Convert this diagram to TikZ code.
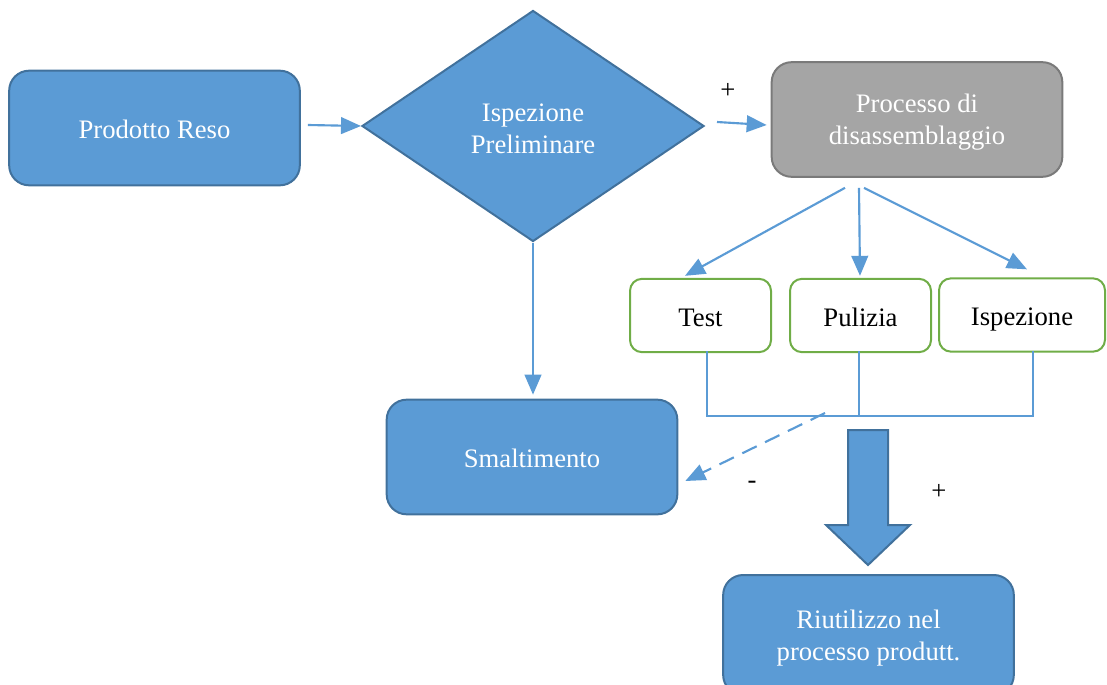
\documentclass[tikz,border=0pt]{standalone}
\usepackage{fontspec}
\setmainfont{Liberation Serif}
\usetikzlibrary{arrows.meta,shapes.geometric,calc}
\definecolor{bfill}{HTML}{5B9BD5}
\definecolor{bline}{HTML}{41719C}
\definecolor{gfill}{HTML}{A5A5A5}
\definecolor{gline}{HTML}{7A7A7A}
\definecolor{grn}{HTML}{70AD47}
\begin{document}
\begin{tikzpicture}[x=0.75pt,y=-0.75pt,
  every node/.style={font=\fontsize{20}{24}\selectfont, align=center, inner sep=0pt},
  oneline/.style={text height=17pt, text depth=1pt},
  twolines/.style={label={[text=white, align=center, yshift=-2pt]center:#1}},
  bluebox/.style={draw=bline, fill=bfill, line width=1.5pt, rounded corners=15pt,
    text=white, minimum width=218pt, minimum height=86pt},
  greybox/.style={bluebox, draw=gline, fill=gfill},
  stagebox/.style={draw=grn, fill=white, line width=1.5pt, rounded corners=9pt,
    text=black, minimum height=55pt, oneline},
  conn/.style={draw=bfill, line width=1.6pt, -{Triangle[length=15pt,width=12.5pt]}},
  joinline/.style={draw=bfill, line width=0.8pt},
  sign/.style={text=black}
]
\clip (0,0) rectangle (1107,685);
\useasboundingbox (0,0) rectangle (1107,685);

% main process nodes
\node[bluebox, oneline] (reso) at (154.5,128) {Prodotto Reso};
\node[diamond, draw=bline, fill=bfill, line width=1.5pt, aspect=1.48,
  minimum width={342*0.75pt}, minimum height={231*0.75pt},
  twolines={Ispezione\\Preliminare}] (diam) at (533,126) {};
\node[greybox, twolines={Processo di\\disassemblaggio}] (proc) at (917,119.5) {};
\node[bluebox, oneline] (smal) at (532,457) {Smaltimento};
\node[bluebox, minimum height=90pt, twolines={Riutilizzo nel\\processo produtt.}] (riut) at (868.5,635) {};

% disassembly stages
\node[stagebox, minimum width={141*0.75pt}] (test) at (700.5,315.5) {Test};
\node[stagebox, minimum width={141*0.75pt}] (pul) at (860.5,315.5) {Pulizia};
\node[stagebox, minimum width={166*0.75pt}] (isp) at (1022,315) {Ispezione};

% signs
\node[sign] (p1) at (728,91) {+};
\node[sign] (m1) at (752,485) {-};
\node[sign] (p2) at (939,492) {+};

% connectors
\draw[conn] ($(reso.east)+(7,-3)$) -- (diam.west);
\draw[conn] ($(diam.east)+(12,-4)$) -- ($(proc.west)+(-4,5.5)$);
\draw[conn] (diam.south) -- ($(smal.north)+(1,-4)$);
\draw[conn] ($(proc.south)+(-72,10)$) -- ($(test.north)+(-15.5,-2)$);
\draw[conn] ($(proc.south)+(-58,10)$) -- ($(pul.north)+(-0.5,-2)$);
\draw[conn] ($(proc.south)+(-53,10)$) -- ($(isp.north)+(5,-8)$);

% joining bracket under the stages
\coordinate (jt) at (707,416);
\coordinate (jp) at (859,416);
\coordinate (ji) at (1033,416);
\draw[joinline] ($(test.south)+(6.5,-2)$) -- (jt) -- (ji) -- ($(isp.south)+(11,-2)$);
\draw[joinline] ($(pul.south)+(-1.5,-2)$) -- (jp);

% rejected parts go to disposal
\coordinate (dstart) at (825,413);
\draw[conn, dash pattern=on 12pt off 7pt] (dstart) -- ($(smal.east)+(7,24)$);

% accepted parts go back to production
\draw[draw=bline, fill=bfill, line width=1.5pt]
  (848,430) -- (888,430) -- (888,525) -- (910,525) -- (868,565) -- (826,525) -- (848,525) -- cycle;
\end{tikzpicture}
\end{document}
